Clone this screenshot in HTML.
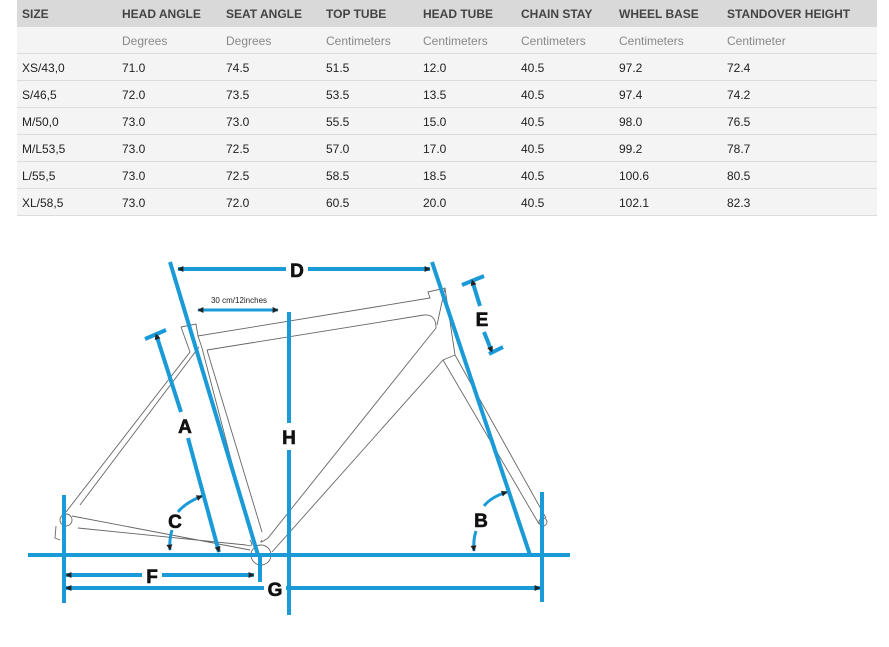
<!DOCTYPE html>
<html><head><style>
body{margin:0;width:889px;height:647px;background:#fff;font-family:"Liberation Sans",Arial,sans-serif;position:relative;overflow:hidden}
.r{position:absolute;left:17px;width:860px;height:26px;background:#f4f4f4;border-bottom:1px solid #dcdcdc}
.r span{position:absolute;top:7px;font-size:12px;color:#222}
.h{background:#d9d9d9;height:27px;border:none}
.h span{font-weight:bold;color:#444;font-size:12px;top:7px}
.u span{color:#888;font-size:12px}
</style></head><body>
<div class="r h" style="top:0"><span style="left:5px">SIZE</span><span style="left:105px">HEAD ANGLE</span><span style="left:209px">SEAT ANGLE</span><span style="left:309px">TOP TUBE</span><span style="left:406px">HEAD TUBE</span><span style="left:504px">CHAIN STAY</span><span style="left:602px">WHEEL BASE</span><span style="left:710px">STANDOVER HEIGHT</span></div>
<div class="r u" style="top:27px"><span style="left:105px">Degrees</span><span style="left:209px">Degrees</span><span style="left:309px">Centimeters</span><span style="left:406px">Centimeters</span><span style="left:504px">Centimeters</span><span style="left:602px">Centimeters</span><span style="left:710px">Centimeter</span></div>
<div class="r" style="top:54px"><span style="left:5px">XS/43,0</span><span style="left:105px">71.0</span><span style="left:209px">74.5</span><span style="left:309px">51.5</span><span style="left:406px">12.0</span><span style="left:504px">40.5</span><span style="left:602px">97.2</span><span style="left:710px">72.4</span></div>
<div class="r" style="top:81px"><span style="left:5px">S/46,5</span><span style="left:105px">72.0</span><span style="left:209px">73.5</span><span style="left:309px">53.5</span><span style="left:406px">13.5</span><span style="left:504px">40.5</span><span style="left:602px">97.4</span><span style="left:710px">74.2</span></div>
<div class="r" style="top:108px"><span style="left:5px">M/50,0</span><span style="left:105px">73.0</span><span style="left:209px">73.0</span><span style="left:309px">55.5</span><span style="left:406px">15.0</span><span style="left:504px">40.5</span><span style="left:602px">98.0</span><span style="left:710px">76.5</span></div>
<div class="r" style="top:135px"><span style="left:5px">M/L53,5</span><span style="left:105px">73.0</span><span style="left:209px">72.5</span><span style="left:309px">57.0</span><span style="left:406px">17.0</span><span style="left:504px">40.5</span><span style="left:602px">99.2</span><span style="left:710px">78.7</span></div>
<div class="r" style="top:162px"><span style="left:5px">L/55,5</span><span style="left:105px">73.0</span><span style="left:209px">72.5</span><span style="left:309px">58.5</span><span style="left:406px">18.5</span><span style="left:504px">40.5</span><span style="left:602px">100.6</span><span style="left:710px">80.5</span></div>
<div class="r" style="top:189px"><span style="left:5px">XL/58,5</span><span style="left:105px">73.0</span><span style="left:209px">72.0</span><span style="left:309px">60.5</span><span style="left:406px">20.0</span><span style="left:504px">40.5</span><span style="left:602px">102.1</span><span style="left:710px">82.3</span></div>
<svg width="889" height="647" style="position:absolute;left:0;top:0">
<defs><marker id="a" viewBox="0 0 10 10" refX="9" refY="5" markerWidth="7" markerHeight="6" markerUnits="userSpaceOnUse" orient="auto-start-reverse"><path d="M0 0L10 5L0 10z" fill="#222"/></marker></defs>
<g fill="none" stroke="#666" stroke-width="0.9">
<path d="M181 327L196 324L198 336L430 298L428 292L445 288L455 355L443 360"/>
<path d="M207 350L424 315Q436 314 436 328L268 538Q258 545 262 540"/>
<path d="M445 288L437 325"/>
<path d="M443 360L272 552"/>
<path d="M198 336L202 348L252 540M207 350L262 532"/>
<path d="M181 327L190 352L66 512M199 347L80 505"/>
<path d="M72 516L250 550M78 528L246 545Q255 548 250 540"/>
<path d="M455 355L546 518M443 360L539 524"/>
<path d="M56 526L55 538L60 540"/>
<circle cx="543" cy="522" r="4"/>
<circle cx="66" cy="520" r="6"/>
<circle cx="261" cy="555" r="10"/>
</g>
<g stroke="#1a9bd7" stroke-width="4" fill="none">
<line x1="28" y1="555" x2="570" y2="555"/>
<line x1="64" y1="495" x2="64" y2="603"/>
<line x1="542" y1="492" x2="542" y2="602"/>
<line x1="289" y1="312" x2="289" y2="423"/><line x1="289" y1="450" x2="289" y2="615"/>
<line x1="260" y1="555" x2="260" y2="582"/>
<line x1="170" y1="262" x2="258" y2="555"/>
<line x1="432" y1="262" x2="530" y2="555"/>
<line x1="178" y1="269" x2="286" y2="269" marker-start="url(#a)"/><line x1="308" y1="269" x2="430" y2="269" marker-end="url(#a)"/>
<line x1="198" y1="310" x2="278" y2="310" marker-start="url(#a)" marker-end="url(#a)" stroke-width="3"/>
<line x1="462" y1="285" x2="484" y2="276"/><line x1="489" y1="354" x2="503" y2="347"/>
<line x1="472" y1="280" x2="480" y2="306" marker-start="url(#a)"/><line x1="484" y1="332" x2="492" y2="352" marker-end="url(#a)"/>
<line x1="145" y1="339" x2="166" y2="330"/>
<line x1="156" y1="334" x2="181" y2="412" marker-start="url(#a)"/><line x1="188" y1="438" x2="219" y2="552" marker-end="url(#a)"/>
<line x1="66" y1="575" x2="142" y2="575" marker-start="url(#a)"/><line x1="162" y1="575" x2="254" y2="575" marker-end="url(#a)"/>
<line x1="66" y1="588" x2="264" y2="588" marker-start="url(#a)"/><line x1="286" y1="588" x2="540" y2="588" marker-end="url(#a)"/>
<path d="M202 496Q185 503 178 512" marker-start="url(#a)" stroke-width="3"/><path d="M172 530Q169 540 170 550" marker-end="url(#a)" stroke-width="3"/>
<path d="M507 492Q491 497 484 506" marker-start="url(#a)" stroke-width="3"/><path d="M476 531Q473 540 474 551" marker-end="url(#a)" stroke-width="3"/>
</g>
<g font-family="Liberation Sans,Arial,sans-serif" font-weight="bold" font-size="19" fill="#111" text-anchor="middle" stroke="#111" stroke-width="0.6">
<text x="297" y="277">D</text><text x="482" y="326">E</text><text x="185" y="433">A</text><text x="289" y="444">H</text>
<text x="175" y="528">C</text><text x="481" y="527">B</text><text x="152" y="583">F</text><text x="275" y="596">G</text>
</g>
<text x="239" y="303" font-size="8" font-family="Liberation Sans,Arial,sans-serif" fill="#222" text-anchor="middle">30 cm/12inches</text>
</svg>
</body></html>
